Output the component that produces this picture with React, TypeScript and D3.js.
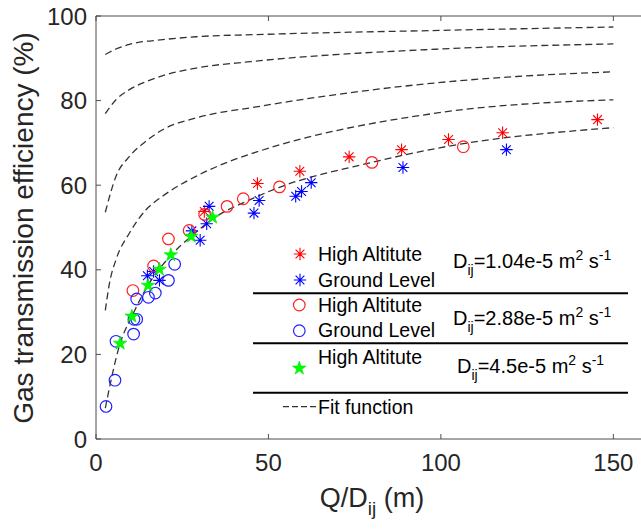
import React from "react";
import * as d3 from "d3";

// ---- Data ----
const xTicks = [0, 50, 100, 150];
const yTicks = [0, 20, 40, 60, 80, 100];

// D = 1.04e-5
const highAlt104: [number, number][] = [
  [31.4, 53.8], [46.8, 60.4], [59.1, 63.3], [73.4, 66.7], [88.6, 68.4],
  [102.2, 70.8], [117.9, 72.4], [145.4, 75.5],
];
const ground104: [number, number][] = [
  [14.9, 38.6], [16.7, 39.6], [18.4, 37.5], [27.8, 49.2], [30.2, 47.0],
  [32.1, 50.9], [32.8, 55.0], [45.8, 53.4], [47.3, 56.4], [57.9, 57.4],
  [59.6, 58.5], [62.4, 60.6], [89.0, 64.2], [119.0, 68.4],
];
// D = 2.88e-5
const highAlt288: [number, number][] = [
  [10.7, 35.1], [16.7, 40.9], [21.0, 47.3], [27.0, 49.3], [31.5, 53.1],
  [38.0, 55.0], [42.7, 56.8], [53.2, 59.6], [80.0, 65.4], [106.5, 69.1],
];
const ground288: [number, number][] = [
  [2.9, 7.7], [5.5, 13.9], [5.8, 23.1], [10.9, 24.8], [11.0, 28.3],
  [11.8, 28.3], [11.8, 33.1], [15.2, 33.5], [17.2, 34.5], [21.0, 37.5],
  [22.8, 41.3],
];
// D = 4.5e-5
const highAlt45: [number, number][] = [
  [7.0, 22.6], [10.4, 29.0], [15.1, 36.3], [18.4, 40.1], [21.7, 43.5],
  [27.6, 47.9], [33.8, 52.4],
];

// Fit function curves
const fit1: [number, number][] = [
  [2.7, 90.9], [5.8, 92.2], [9.7, 93.3], [19.3, 94.4], [29, 95.1],
  [46.4, 95.6], [100, 96.6], [150, 97.4],
];
const fit2: [number, number][] = [
  [2.7, 76.9], [5.8, 80.2], [9.7, 82.6], [14.6, 84.5], [19.4, 85.9],
  [29, 87.7], [44.7, 89.2], [100, 92.2], [150, 93.4],
];
const fit3: [number, number][] = [
  [2.7, 53.6], [5.8, 62.1], [9.7, 66.8], [14.5, 70.4], [19.3, 73.1],
  [29, 75.9], [46.4, 78.5], [100, 84.3], [122, 85.7], [150, 86.8],
];
const fit4: [number, number][] = [
  [2.7, 30.4], [3.9, 36.8], [5.8, 42.4], [9.7, 48.7], [14.5, 54.2],
  [19.3, 57.4], [29, 62.1], [38.6, 65.6], [46.4, 67.8], [100, 77.2],
  [150, 80.2],
];
const fit5: [number, number][] = [
  [2.7, 7.3], [7.0, 22.6], [10.4, 29.0], [15, 36.2], [21.7, 43.4],
  [27.6, 47.9], [33.8, 52.0], [44.7, 56.6], [53.2, 59.5], [80.1, 65.4],
  [100, 68.9], [150, 73.6],
];
const fitCurves = [fit1, fit2, fit3, fit4, fit5];

const legendRows = ["High Altitute", "Ground Level", "High Altitute", "Ground Level", "High Altitute"];
const diffLabels = ["1.04e-5", "2.88e-5", "4.5e-5"];

// ---- Layout ----
const W = 641;
const H = 532;
const FONT = "'Liberation Sans', Arial, Helvetica, sans-serif";
const x = d3.scaleLinear().domain([0, 160]).range([96, 96 + 160 * 3.449]);
const y = d3.scaleLinear().domain([0, 100]).range([439, 16]);

const line = d3
  .line<[number, number]>()
  .x((d) => x(d[0]))
  .y((d) => y(d[1]))
  .curve(d3.curveMonotoneX);

function asterisk(r: number) {
  const d = r * 0.7071;
  return `M${-r},0L${r},0M0,${-r}L0,${r}M${-d},${-d}L${d},${d}M${-d},${d}L${d},${-d}`;
}
const starPath = d3.symbol(d3.symbolStar, 58)() as string;

const AX = "#4d4d4d";
const TXT = "#262626";

function Asterisk({ cx, cy, color }: { cx: number; cy: number; color: string }) {
  return (
    <path
      d={asterisk(6.2)}
      transform={`translate(${cx},${cy})`}
      stroke={color}
      strokeWidth={1.1}
      fill="none"
    />
  );
}
function Circle({ cx, cy, color }: { cx: number; cy: number; color: string }) {
  return <circle cx={cx} cy={cy} r={5.8} stroke={color} strokeWidth={1.2} fill="none" />;
}
function Star({ cx, cy }: { cx: number; cy: number }) {
  return (
    <path
      d={starPath}
      transform={`translate(${cx},${cy})`}
      fill="#00ff00"
      stroke="#00e000"
      strokeWidth={0.6}
    />
  );
}

function DLabel({ xPos, yPos, val }: { xPos: number; yPos: number; val: string }) {
  return (
    <text x={xPos} y={yPos} fontSize={20} fill="#000" style={{ whiteSpace: "pre" }}>
      D
      <tspan fontSize={14} dy={7}>ij</tspan>
      <tspan dy={-7}>{`=${val} m`}</tspan>
      <tspan fontSize={14} dy={-8}>2</tspan>
      <tspan dy={8}>{" s"}</tspan>
      <tspan fontSize={14} dy={-8}>-1</tspan>
    </text>
  );
}

export default function App() {
  const xRight = W;
  return (
    <svg
      width={W}
      height={H}
      viewBox={`0 0 ${W} ${H}`}
      style={{ position: "absolute", left: 0, top: 0, background: "#fff" }}
      fontFamily={FONT}
    >
      <rect x={0} y={0} width={W} height={H} fill="#fff" />

      {/* fit curves */}
      {fitCurves.map((c, i) => (
        <path
          key={i}
          d={line(c) as string}
          fill="none"
          stroke="#333"
          strokeWidth={1.3}
          strokeDasharray="7,4"
        />
      ))}

      {/* data */}
      {highAlt104.map((d, i) => (
        <Asterisk key={"ra" + i} cx={x(d[0])} cy={y(d[1])} color="#ff0000" />
      ))}
      {ground104.map((d, i) => (
        <Asterisk key={"ba" + i} cx={x(d[0])} cy={y(d[1])} color="#0000ff" />
      ))}
      {highAlt288.map((d, i) => (
        <Circle key={"rc" + i} cx={x(d[0])} cy={y(d[1])} color="#ff2020" />
      ))}
      {ground288.map((d, i) => (
        <Circle key={"bc" + i} cx={x(d[0])} cy={y(d[1])} color="#2020ff" />
      ))}
      {highAlt45.map((d, i) => (
        <Star key={"gs" + i} cx={x(d[0])} cy={y(d[1])} />
      ))}

      {/* axes box */}
      <line x1={x(0)} x2={x(0)} y1={y(0)} y2={y(100)} stroke={AX} strokeWidth={1} />
      <line x1={x(0)} x2={xRight} y1={y(0)} y2={y(0)} stroke={AX} strokeWidth={1} />
      <line x1={x(0)} x2={xRight} y1={y(100)} y2={y(100)} stroke={AX} strokeWidth={1} />
      {xTicks.map((t) => (
        <g key={"xt" + t}>
          <line x1={x(t)} x2={x(t)} y1={y(0)} y2={y(0) - 5} stroke={AX} />
          <line x1={x(t)} x2={x(t)} y1={y(100)} y2={y(100) + 5} stroke={AX} />
          <text x={x(t)} y={y(0) + 32} textAnchor="middle" fontSize={24} fill={TXT}>
            {t}
          </text>
        </g>
      ))}
      {yTicks.map((t) => (
        <g key={"yt" + t}>
          <line x1={x(0)} x2={x(0) + 5} y1={y(t)} y2={y(t)} stroke={AX} />
          <text x={x(0) - 9} y={y(t) + 8.5} textAnchor="end" fontSize={24} fill={TXT}>
            {t}
          </text>
        </g>
      ))}

      {/* axis labels */}
      <text
        transform={`translate(33,228) rotate(-90)`}
        textAnchor="middle"
        fontSize={28}
        fill={TXT}
      >
        Gas transmission efficiency (%)
      </text>
      <text x={372} y={507} textAnchor="middle" fontSize={27} fill={TXT} style={{ whiteSpace: "pre" }}>
        Q/D
        <tspan fontSize={19} dy={8}>ij</tspan>
        <tspan dy={-8}>{" (m)"}</tspan>
      </text>

      {/* legend */}
      <Asterisk cx={300} cy={254} color="#ff0000" />
      <Asterisk cx={300} cy={280} color="#0000ff" />
      <Circle cx={299.3} cy={305} color="#ff2020" />
      <Circle cx={299.3} cy={330.7} color="#2020ff" />
      <Star cx={299.3} cy={368.3} />
      <line x1={283} x2={317} y1={406.7} y2={406.7} stroke="#333" strokeWidth={1.3} strokeDasharray="6,3" />
      {[260.5, 286.5, 311.5, 337, 364].map((yy, i) => (
        <text key={"lt" + i} x={318} y={yy} fontSize={19.5} fill="#000">
          {legendRows[i]}
        </text>
      ))}
      <text x={318} y={413.5} fontSize={19.5} fill="#000">
        Fit function
      </text>
      <DLabel xPos={453} yPos={268.3} val={diffLabels[0]} />
      <DLabel xPos={453} yPos={325} val={diffLabels[1]} />
      <DLabel xPos={457} yPos={373.3} val={diffLabels[2]} />
      {[293.3, 343.3, 392.7].map((yy) => (
        <line key={"sep" + yy} x1={253} x2={628} y1={yy} y2={yy} stroke="#000" strokeWidth={2} />
      ))}
    </svg>
  );
}
